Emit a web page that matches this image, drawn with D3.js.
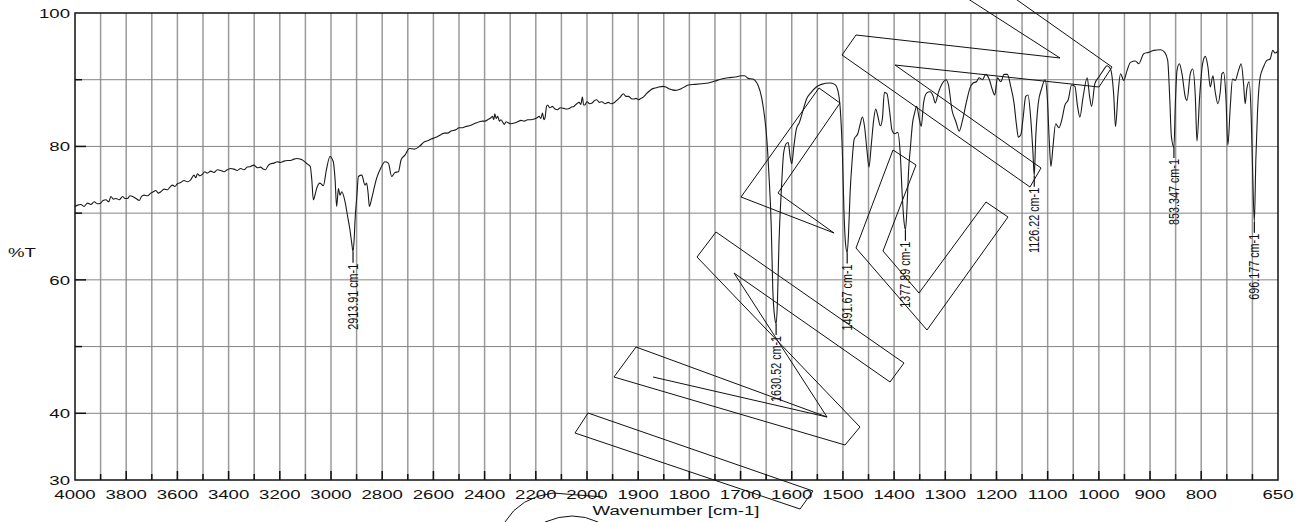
<!DOCTYPE html>
<html>
<head>
<meta charset="utf-8">
<script src="https://cdn.jsdelivr.net/npm/d3@7"></script>
<style>
  body { margin: 0; background: #fff; }
  text { font-family: "Liberation Sans", Arial, sans-serif; fill: #111; }
</style>
</head>
<body>
<svg id="chart" width="1306" height="522"></svg>
<script>
// spectrum: wavenumber (cm-1) and transmittance (%T)
const specWn = [
  4000, 3990, 3977, 3965, 3951, 3938, 3925, 3912, 3900, 3890, 3879, 3868, 3860, 3850, 3840, 3827,
  3814, 3805, 3795, 3785, 3775, 3762, 3749, 3740, 3730, 3717, 3704, 3694, 3684, 3675, 3665, 3652,
  3639, 3629, 3619, 3610, 3600, 3587, 3574, 3561, 3548, 3535, 3528, 3522, 3512, 3503, 3493, 3483,
  3470, 3457, 3444, 3431, 3418, 3405, 3392, 3379, 3366, 3353, 3340, 3327, 3314, 3301, 3288, 3275,
  3265, 3256, 3246, 3236, 3223, 3210, 3197, 3184, 3171, 3158, 3145, 3132, 3120, 3113, 3100, 3090,
  3081, 3075, 3069, 3062, 3056, 3043, 3030, 3018, 3004, 2991, 2984, 2978, 2971, 2965, 2958, 2945,
  2935, 2926, 2919, 2913.91, 2909, 2906, 2899, 2893, 2880, 2867, 2861, 2855, 2850, 2841, 2830, 2822,
  2805, 2789, 2776, 2763, 2750, 2737, 2726, 2711, 2694, 2674, 2655, 2635, 2620, 2609, 2595, 2583,
  2570, 2557, 2545, 2531, 2512, 2500, 2486, 2473, 2460, 2447, 2434, 2420, 2408, 2398, 2388, 2375,
  2369, 2364, 2360, 2355, 2349, 2342, 2336, 2323, 2316, 2310, 2297, 2284, 2271, 2258, 2245, 2232,
  2219, 2206, 2195, 2187, 2180, 2174, 2168, 2164, 2158, 2154, 2145, 2135, 2125, 2116, 2104, 2090,
  2080, 2070, 2060, 2051, 2040, 2031, 2024, 2018, 2013, 2009, 2000, 1995, 1990, 1985, 1981, 1976,
  1971, 1965, 1958, 1953, 1948, 1942, 1935, 1929, 1924, 1919, 1914, 1909, 1904, 1899, 1895, 1890,
  1885, 1880, 1875, 1870, 1865, 1860, 1851, 1846, 1841, 1834, 1828, 1821, 1815, 1808, 1802, 1789,
  1776, 1763, 1750, 1737, 1724, 1711, 1698, 1692, 1685, 1676, 1672, 1666, 1659, 1653, 1649, 1645,
  1640, 1637, 1633, 1630.52, 1628, 1625, 1620, 1616, 1611, 1607, 1603, 1600, 1596, 1591, 1585, 1578,
  1571, 1562, 1552, 1542, 1526, 1516, 1510, 1505, 1501, 1498, 1495, 1491.67, 1489, 1486, 1482, 1478,
  1471, 1466, 1462, 1458, 1453, 1449, 1445, 1440, 1436, 1432, 1427, 1423, 1419, 1414, 1409, 1404,
  1399, 1393, 1388, 1384, 1381, 1377.89, 1375, 1372, 1368, 1364, 1360, 1356, 1351, 1347, 1342.5, 1336.6,
  1330, 1323.6, 1319.7, 1313.8, 1305.4, 1298.8, 1293.7, 1287.1, 1279.3, 1272.9, 1266.4, 1258.6, 1252, 1245.6, 1239.2, 1233.9,
  1227.5, 1220.9, 1214.4, 1208, 1203.3, 1198.2, 1191.6, 1185.2, 1178.7, 1172.2, 1165.7, 1161.2, 1157.3, 1152.6, 1148.1, 1142.9,
  1138.4, 1133.3, 1128.7, 1126.22, 1123.4, 1118.3, 1111.7, 1105.3, 1100.8, 1096.9, 1093.6, 1089.7, 1084.4, 1078, 1072.7, 1066.3,
  1059.8, 1053.3, 1046.8, 1041.6, 1037, 1031.2, 1022.8, 1018.1, 1014.2, 1007.8, 1000, 992.2, 983.8, 977.2, 970.8, 967.5,
  962.4, 957.7, 951.3, 944.8, 938.3, 928.5, 922, 912.3, 902.5, 892.8, 879.7, 871.3, 865.5, 861.6, 858.3, 853.347,
  850.5, 847.3, 842.7, 837.6, 831.1, 827.8, 821.3, 816.8, 811.5, 808.3, 803.1, 797.3, 792, 786.9, 782.3, 777.2,
  772.7, 767.5, 762.8, 759.6, 756.3, 751.8, 747.9, 743.3, 738.8, 733.5, 727.1, 721.9, 717.3, 714.1, 710.8, 706.3,
  702.4, 699.8, 696.177, 693.3, 690.1, 684.8, 678.4, 671.9, 665.4, 660.2, 655.7, 650
];
const specT = [
  71.0, 71.2, 71.3, 71.0, 71.5, 71.3, 71.7, 71.4, 71.5, 71.9, 72.0, 71.7, 72.5, 72.1, 72.2, 72.0,
  72.5, 72.2, 72.2, 72.6, 72.5, 72.2, 71.9, 72.5, 72.7, 72.6, 73.0, 73.2, 73.4, 73.0, 73.2, 73.6,
  73.5, 73.9, 74.2, 74.0, 74.4, 74.6, 74.9, 74.7, 75.0, 75.7, 75.3, 75.9, 75.6, 75.8, 76.2, 76.0,
  76.3, 76.1, 76.5, 76.4, 76.2, 76.5, 76.7, 76.6, 76.4, 76.7, 76.5, 76.9, 77.0, 77.2, 76.8, 76.9,
  76.6, 76.5, 77.1, 77.4, 77.5, 77.7, 77.6, 77.8, 77.9, 77.9, 78.1, 78.2, 78.1, 78.0, 77.6, 77.3,
  77.0, 75.0, 72.0, 72.8, 73.7, 74.5, 74.1, 76.5, 78.5, 77.7, 75.0, 71.0, 73.7, 72.7, 73.2, 71.7,
  69.5, 67.5, 65.5, 64.2, 66.5, 69.0, 72.5, 75.5, 75.7, 74.2, 74.5, 73.0, 71.0, 72.2, 74.0, 75.2,
  76.8, 77.7, 77.5, 75.5, 76.1, 76.2, 78.0, 78.7, 79.7, 79.6, 80.0, 80.7, 80.9, 81.1, 81.3, 81.5,
  81.8, 82.0, 82.0, 82.3, 82.5, 82.8, 82.8, 83.0, 83.1, 83.3, 83.5, 83.7, 83.8, 83.8, 84.0, 84.3,
  84.5, 84.0, 84.9, 84.2, 84.5, 83.8, 84.0, 83.3, 83.7, 83.6, 83.4, 83.5, 83.7, 83.9, 83.8, 84.0,
  84.0, 84.1, 84.3, 84.5, 84.2, 85.0, 84.0, 84.3, 86.0, 86.2, 85.8, 86.0, 85.6, 85.5, 85.8, 85.7,
  85.6, 85.7, 85.9, 86.0, 86.4, 86.6, 86.3, 87.4, 86.2, 86.2, 86.7, 86.4, 86.5, 86.9, 87.0, 86.6,
  86.7, 86.4, 86.6, 86.4, 86.5, 86.9, 87.4, 87.9, 87.5, 87.5, 87.2, 87.1, 87.2, 87.0, 87.2, 87.4,
  87.8, 88.2, 88.5, 88.7, 88.8, 88.9, 89.0, 88.9, 88.7, 88.5, 88.4, 88.5, 88.7, 89.0, 89.2, 89.3,
  89.4, 89.5, 89.8, 90.1, 90.3, 90.4, 90.6, 90.6, 90.2, 90.1, 89.9, 89.2, 87.4, 84.4, 81.4, 76.4,
  67.9, 58.5, 54.2, 53.4, 56.5, 65.4, 73.9, 78.9, 80.4, 80.6, 78.4, 77.4, 79.9, 82.6, 83.6, 85.4,
  87.1, 88.1, 88.9, 89.3, 89.5, 89.3, 88.4, 85.4, 78.9, 70.4, 65.5, 64.1, 67.0, 73.0, 77.9, 81.1,
  81.9, 83.4, 84.4, 83.1, 79.4, 76.9, 79.9, 83.9, 85.6, 84.6, 83.1, 84.1, 88.1, 87.9, 85.4, 82.4,
  81.9, 82.1, 78.9, 72.5, 69.0, 67.5, 70.5, 76.0, 80.0, 83.5, 85.0, 86.0, 84.2, 83.0, 86.5, 88.0,
  88.2, 87.5, 86.5, 88.0, 89.5, 90.0, 89.2, 85.5, 83.7, 82.3, 83.9, 86.7, 88.7, 89.5, 89.7, 90.3,
  90.0, 90.8, 90.1, 88.5, 87.7, 90.3, 89.7, 90.8, 90.8, 89.0, 86.5, 83.4, 81.4, 81.7, 84.2, 87.5,
  87.7, 84.4, 79.0, 75.6, 81.2, 86.5, 88.7, 90.0, 87.5, 80.9, 77.0, 79.9, 83.4, 82.8, 83.9, 86.2,
  87.0, 89.2, 89.0, 86.0, 84.4, 87.2, 90.3, 87.5, 86.0, 89.4, 90.4, 91.3, 92.1, 91.6, 87.5, 83.0,
  88.0, 90.9, 89.9, 91.4, 92.6, 92.8, 92.4, 93.9, 94.1, 94.4, 94.5, 94.1, 92.9, 87.4, 81.5, 79.9,
  86.5, 91.4, 92.4, 90.9, 87.4, 86.9, 90.9, 91.6, 87.4, 80.8, 87.4, 92.4, 93.5, 91.9, 88.9, 90.6,
  88.2, 86.4, 88.2, 90.9, 91.1, 87.4, 80.2, 85.9, 90.1, 89.9, 91.4, 92.4, 89.4, 86.4, 88.7, 89.7,
  84.5, 77.0, 68.7, 78.0, 85.0, 90.4, 91.9, 92.9, 93.1, 94.4, 94.0, 94.3
];

// labelled peaks
const peakWn = [2913.91, 1630.52, 1491.67, 1377.89, 1126.22, 853.347, 696.177];
const peakLabels = ["2913.91 cm-1", "1630.52 cm-1", "1491.67 cm-1", "1377.89 cm-1", "1126.22 cm-1", "853.347 cm-1", "696.177 cm-1"];

// axes
const xTickLabels = [4000, 3800, 3600, 3400, 3200, 3000, 2800, 2600, 2400, 2200, 2000, 1900, 1800, 1700, 1600, 1500, 1400, 1300, 1200, 1100, 1000, 900, 800, 650];
const xGridValues = d3.range(3900, 2000, -100).concat(d3.range(2000, 650, -50));
const yTickLabels = [100, 80, 60, 40, 30];
const yGridValues = [90, 80, 70, 60, 50, 40];

const svg = d3.select("#chart");
const x = d3.scaleLinear().domain([4000, 2000, 650]).range([75, 587, 1278]);
const y = d3.scaleLinear().domain([30, 100]).range([480, 13]);
const xStretch = 1.38;

// grid
svg.append("g")
  .selectAll("line")
  .data(xGridValues)
  .join("line")
  .attr("x1", d => x(d)).attr("x2", d => x(d))
  .attr("y1", y(100)).attr("y2", y(30))
  .attr("stroke", "#9a9a9a")
  .attr("stroke-width", 1.5);
svg.append("g")
  .selectAll("line")
  .data(yGridValues)
  .join("line")
  .attr("x1", x(4000)).attr("x2", x(650))
  .attr("y1", d => y(d)).attr("y2", d => y(d))
  .attr("stroke", "#858585")
  .attr("stroke-width", 1);

// tick marks
svg.append("g")
  .selectAll("line")
  .data(xGridValues)
  .join("line")
  .attr("x1", d => x(d)).attr("x2", d => x(d))
  .attr("y1", y(30))
  .attr("y2", d => y(30) - (xTickLabels.includes(d) ? 9 : 6))
  .attr("stroke", "#111")
  .attr("stroke-width", 1.5);
svg.append("g")
  .selectAll("line")
  .data([90, 80, 70, 60, 50, 40])
  .join("line")
  .attr("x1", x(4000))
  .attr("x2", d => x(4000) + (yTickLabels.includes(d) ? 11 : 7))
  .attr("y1", d => y(d)).attr("y2", d => y(d))
  .attr("stroke", "#111")
  .attr("stroke-width", 1.5);

// frame
svg.append("rect")
  .attr("x", x(4000)).attr("y", y(100))
  .attr("width", x(650) - x(4000)).attr("height", y(30) - y(100))
  .attr("fill", "none")
  .attr("stroke", "#111")
  .attr("stroke-width", 1.5);

// tick labels (the original text is drawn wide, so stretch it)
const labels = svg.append("g").attr("font-size", 13.5);
labels.selectAll("text.xl")
  .data(xTickLabels)
  .join("text")
  .attr("class", "xl")
  .attr("text-anchor", "middle")
  .attr("transform", d => `translate(${x(d)},499) scale(${xStretch},1)`)
  .text(d => d);
labels.selectAll("text.yl")
  .data(yTickLabels)
  .join("text")
  .attr("class", "yl")
  .attr("text-anchor", "end")
  .attr("transform", d => `translate(70,${y(d) + 5}) scale(${xStretch},1)`)
  .text(d => d);
labels.append("text")
  .attr("text-anchor", "middle")
  .attr("transform", `translate(676,515) scale(${xStretch},1)`)
  .text("Wavenumber [cm-1]");
labels.append("text")
  .attr("transform", `translate(8,257) scale(${xStretch},1)`)
  .text("%T");

// spectrum
const spectrum = specWn.map((wn, i) => ({ wn, t: specT[i] }));
const line = d3.line()
  .x(d => x(d.wn))
  .y(d => y(d.t))
  .curve(d3.curveMonotoneX);
svg.append("path")
  .datum(spectrum)
  .attr("d", line)
  .attr("fill", "none")
  .attr("stroke", "#1a1a1a")
  .attr("stroke-width", 1.1)
  .attr("stroke-linejoin", "round");

// peak labels
const peaks = peakWn.map((wn, i) => ({ wn, t: specT[specWn.indexOf(wn)], label: peakLabels[i] }));
const pk = svg.append("g").selectAll("g").data(peaks).join("g");
pk.append("line")
  .attr("x1", d => x(d.wn)).attr("x2", d => x(d.wn))
  .attr("y1", d => y(d.t)).attr("y2", d => y(d.t) + 11)
  .attr("stroke", "#111")
  .attr("stroke-width", 1.2);
pk.append("text")
  .attr("font-size", 10.8)
  .attr("text-anchor", "end")
  .attr("transform", d => `translate(${x(d.wn) + 5},${y(d.t) + 12}) rotate(-90) scale(1,1.3)`)
  .text(d => d.label);

// watermark outlines (decoration, pixel positions)
const watermark = [
  "M588,413 L813,491 L800,509 L575,433 Z",
  "M697,257 L716,232 L904,363 L890,382 L734,273 L827,417 L636,347 L614,377 L845,445 L860,427 Z",
  "M653,377 L827,417",
  "M962,-5 L1060,58 L856,35 L842,55 L1030,187 L1041,168 L895,65 L1099,87 L1112,67 L1010,-5",
  "M819,88 L741,197 L834,233 L778,193 L840,103 Z",
  "M893,150 L856,248 L927,330 L1008,217 L986,202 L919,293 L883,251 L916,165 Z",
  "M505,522 Q520,497 553,493 L603,497",
  "M545,522 Q573,510 598,522"
];
svg.append("g")
  .selectAll("path")
  .data(watermark)
  .join("path")
  .attr("d", d => d)
  .attr("fill", "none")
  .attr("stroke", "#111")
  .attr("stroke-width", 1);
</script>
</body>
</html>
